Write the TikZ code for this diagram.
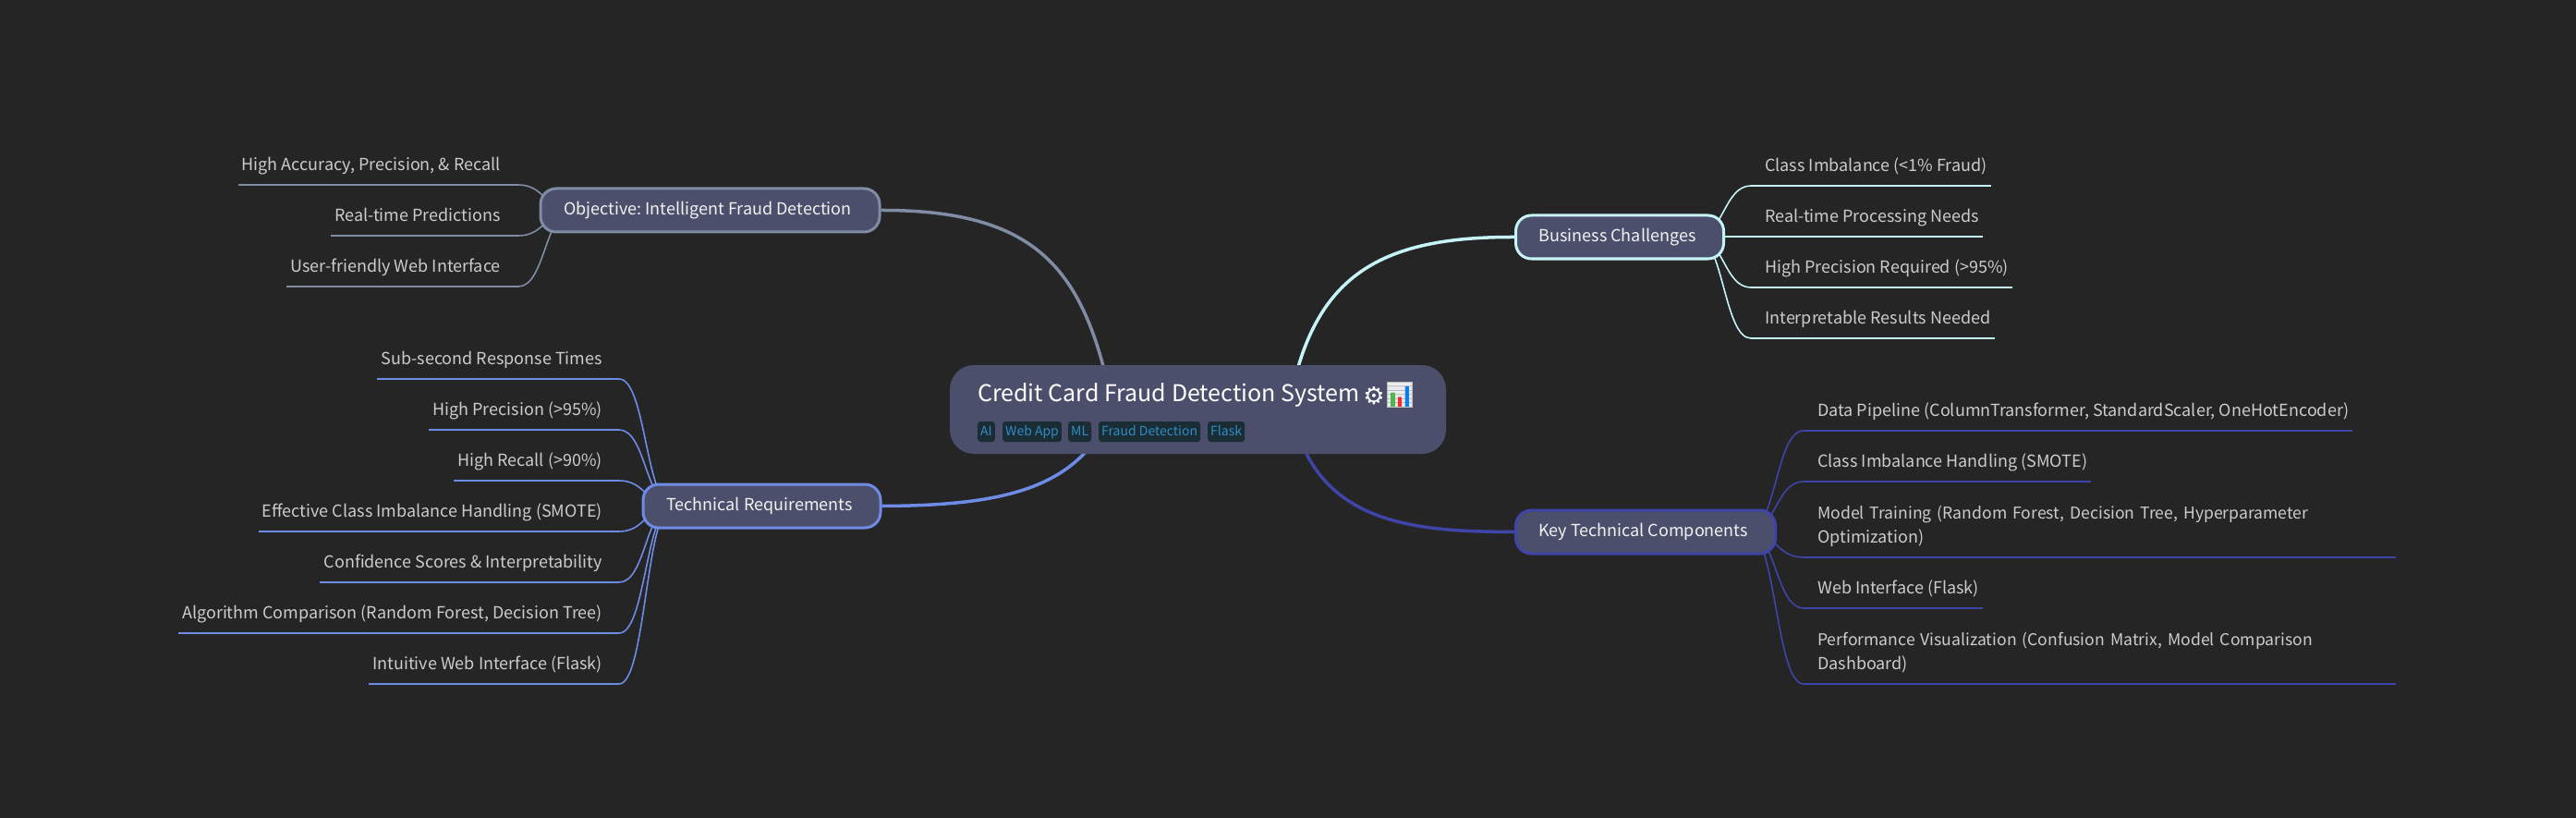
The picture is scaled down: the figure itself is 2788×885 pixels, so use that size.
\documentclass[tikz,border=0pt]{standalone}
\usepackage{fontspec}
\setmainfont{Noto Sans CJK SC}
\newfontfamily\gearfont{DejaVu Sans}
\newfontfamily\emojifont{Noto Emoji}
\usetikzlibrary{backgrounds}
\definecolor{pagebg}{HTML}{252525}
\definecolor{nodebg}{HTML}{4C4F6B}
\definecolor{tagbg}{HTML}{1B2D34}
\definecolor{tagtext}{HTML}{2E8CC6}
\definecolor{leaftext}{HTML}{CCCCCC}
\definecolor{branchtext}{HTML}{F2F2F2}
\definecolor{objcolor}{HTML}{7F8CA3}
\definecolor{bizcolor}{HTML}{C6F3F6}
\definecolor{keycolor}{HTML}{3F45A8}
\definecolor{techcolor}{HTML}{6E8BE6}
\begin{document}
\frenchspacing
\begin{tikzpicture}[
  x=1pt, y=-1pt,
  rootnode/.style={fill=nodebg, rounded corners=26pt, inner sep=0pt, minimum width=537pt, minimum height=96pt},
  branchnode/.style={fill=nodebg, line width=3pt, rounded corners=17pt, inner sep=0pt, minimum height=47pt,
    text=branchtext, font=\fontsize{18}{26}\selectfont, text height=13pt, text depth=3pt, execute at end node=\hspace*{5pt}},
  leafnode/.style={text=leaftext, font=\fontsize{18}{26}\selectfont, inner xsep=4pt, inner ysep=0pt, text height=13pt, text depth=15pt},
  tagnode/.style={fill=tagbg, text=tagtext, rounded corners=3pt, font=\fontsize{14}{18}\selectfont, inner xsep=3pt, inner ysep=0pt,
    anchor=base west, text height=15pt, text depth=7pt},
  leafedge/.style={line width=1.6pt},
  branchedge/.style={line width=3.5pt}
]
  \useasboundingbox (0,0) rectangle (2788,885);

  % --- CENTRE ---
  \node[rootnode] (root) at (1296.5,443) {};
  \node[anchor=base west, inner sep=0pt, text=white, font=\fontsize{25}{32}\selectfont] (title) at (1058,434) {Credit Card Fraud Detection System};
  \node[inner sep=0pt, text=white, font=\gearfont\fontsize{26}{30}\selectfont] (gear) at (1487,428) {⚙};
  \fill[white!90!nodebg] (1501,413) rectangle (1529,441);
  \node[inner sep=0pt, text=black!35, font=\emojifont\fontsize{27}{30}\selectfont] (chart) at (1515,427) {📊};
  \fill[green!60!black!70!white] (1505,425) rectangle (1510,440);
  \fill[red!85] (1513,430) rectangle (1517,440);
  \fill[blue!50!cyan] (1520.5,418) rectangle (1525,440);

  \node[tagnode] (tag1) at (1058,471) {AI};
  \node[tagnode] (tag2) at (1085,471) {Web App};
  \node[tagnode] (tag3) at (1156,471) {ML};
  \node[tagnode] (tag4) at (1189,471) {Fraud Detection};
  \node[tagnode] (tag5) at (1307,471) {Flask};

  \coordinate (rootobj) at (1200,420);
  \coordinate (rootbiz) at (1395,440);
  \coordinate (rootkey) at (1405,470);
  \coordinate (roottech) at (1190,470);

  % --- OBJECTIVE ---
  \node[branchnode, draw=objcolor, minimum width=367pt] (obj) at (768.5,227.5) {Objective: Intelligent Fraud Detection};
  \coordinate (objhub) at (619,228);
  \node[leafnode, anchor=south east] (o1) at (546,200) {High Accuracy, Precision, \& Recall};
  \node[leafnode, anchor=south east] (o2) at (546,255) {Real-time Predictions};
  \node[leafnode, anchor=south east] (o3) at (546,310) {User-friendly Web Interface};

  % --- BUSINESS ---
  \node[branchnode, draw=bizcolor, minimum width=225pt] (biz) at (1753,256.5) {Business Challenges};
  \coordinate (bizhub) at (1836,256);
  \node[leafnode, anchor=south west] (b1) at (1906,201) {Class Imbalance (<1\% Fraud)};
  \node[leafnode, anchor=south west] (b2) at (1906,256) {Real-time Processing Needs};
  \node[leafnode, anchor=south west] (b3) at (1906,311) {High Precision Required (>95\%)};
  \node[leafnode, anchor=south west] (b4) at (1906,366) {Interpretable Results Needed};

  % --- TECHNICAL REQUIREMENTS ---
  \node[branchnode, draw=techcolor, minimum width=257pt] (tech) at (824.5,547.5) {Technical Requirements};
  \coordinate (techhub) at (728,547);
  \node[leafnode, anchor=south east] (t1) at (656,410) {Sub-second Response Times};
  \node[leafnode, anchor=south east] (t2) at (656,465) {High Precision (>95\%)};
  \node[leafnode, anchor=south east] (t3) at (656,520) {High Recall (>90\%)};
  \node[leafnode, anchor=south east] (t4) at (656,575) {Effective Class Imbalance Handling (SMOTE)};
  \node[leafnode, anchor=south east] (t5) at (656,630) {Confidence Scores \& Interpretability};
  \node[leafnode, anchor=south east] (t6) at (656,685) {Algorithm Comparison (Random Forest, Decision Tree)};
  \node[leafnode, anchor=south east] (t7) at (656,740) {Intuitive Web Interface (Flask)};

  % --- KEY COMPONENTS ---
  \node[branchnode, draw=keycolor, minimum width=281pt] (key) at (1781,575.5) {Key Technical Components};
  \coordinate (keyhub) at (1892,575);
  \node[leafnode, anchor=south west] (k1) at (1963,466) {Data Pipeline (ColumnTransformer, StandardScaler, OneHotEncoder)};
  \node[leafnode, anchor=south west] (k2) at (1963,521) {Class Imbalance Handling (SMOTE)};
  \node[leafnode, anchor=south west, text width=622pt, align=left, text depth=41pt] (k3) at (1963,603) {\mbox{\fontsize{17.6}{26}\selectfont Model Training (Random Forest, Decision Tree, Hyperparameter}\\ Optimization)};
  \node[leafnode, anchor=south west] (k4) at (1963,658) {Web Interface (Flask)};
  \node[leafnode, anchor=south west, text width=622pt, align=left, text depth=41pt] (k5) at (1963,740) {\mbox{\fontsize{17.6}{26}\selectfont Performance Visualization (Confusion Matrix, Model Comparison}\\ Dashboard)};

  \begin{scope}[on background layer]
    \fill[pagebg] (0,0) rectangle (2788,885);

    % branches
    \draw[branchedge, objcolor] (obj.east) .. controls (1120,227) and (1170,290) .. (rootobj);
    \draw[branchedge, bizcolor] (biz.west) .. controls (1490,256) and (1420,300) .. (rootbiz);
    \draw[branchedge, keycolor] (key.west) .. controls (1540,575) and (1440,570) .. (rootkey);
    \draw[branchedge, techcolor] (tech.east) .. controls (1080,547) and (1150,530) .. (roottech);

    % leaves
    \foreach \n in {o1,o2,o3} {
      \draw[objcolor, line width=2.2pt] (\n.south west) -- ([xshift=15pt]\n.south east);
      \draw[objcolor, leafedge] ([xshift=15pt]\n.south east) .. controls +(29,0) and +(-29,0) .. (objhub);
    }
    \foreach \n in {b1,b2,b3,b4} {
      \draw[bizcolor, line width=2.2pt] (\n.south east) -- ([xshift=-11pt]\n.south west);
      \draw[bizcolor, leafedge] ([xshift=-11pt]\n.south west) .. controls +(-29,0) and +(29,0) .. (bizhub);
    }
    \foreach \n in {t1,t2,t3,t4,t5,t6,t7} {
      \draw[techcolor, line width=2.2pt] (\n.south west) -- ([xshift=14pt]\n.south east);
      \draw[techcolor, leafedge] ([xshift=14pt]\n.south east) .. controls +(29,0) and +(-29,0) .. (techhub);
    }
    \foreach \n in {k1,k2,k3,k4,k5} {
      \draw[keycolor, line width=2.2pt] (\n.south east) -- ([xshift=-11pt]\n.south west);
      \draw[keycolor, leafedge] ([xshift=-11pt]\n.south west) .. controls +(-30,0) and +(30,0) .. (keyhub);
    }
  \end{scope}
\end{tikzpicture}
\end{document}
